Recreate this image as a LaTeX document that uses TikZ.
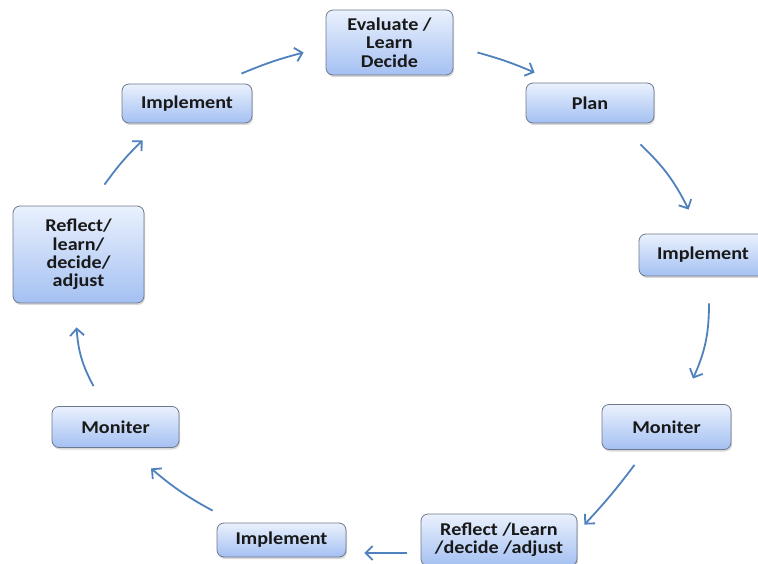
\documentclass[tikz,border=0pt]{standalone}
\usepackage{fontspec}
\setmainfont{Carlito}[FakeStretch=1.12]
\usetikzlibrary{arrows.meta,shadows}
\definecolor{boxtop}{RGB}{234,241,253}
\definecolor{boxbot}{RGB}{164,192,242}
\definecolor{boxborder}{RGB}{110,120,140}
\definecolor{arrblue}{RGB}{79,129,189}
\tikzset{
  box/.style={draw=boxborder, line width=0.8pt, rounded corners=7pt,
    top color=boxtop, bottom color=boxbot, minimum width=128pt,
    align=center, inner sep=0pt, text=black!90,
    font=\fontsize{18}{18.3}\selectfont\bfseries,
    drop shadow={shadow xshift=1pt, shadow yshift=-2pt, opacity=0.3}},
  arr/.style={draw=arrblue, line width=1.8pt,
    -{Straight Barb[length=7pt,width=14pt]}}
}
\begin{document}
\begin{tikzpicture}[x=1pt,y=1pt]
\useasboundingbox (0,0) rectangle (758,563);
\node[box, minimum width=127pt, minimum height=65pt] (ev) at (389.5,520.5) {Evaluate /\\Learn\\Decide};
\node[box, minimum height=40pt] (plan) at (590,460) {Plan};
\node[box, minimum height=42pt] (impr) at (703,308) {Implement};
\node[box, minimum width=129pt, minimum height=45pt] (monr) at (666.5,136) {Moniter};
\node[box, minimum width=156pt, minimum height=52pt] (refb) at (499,23) {Reflect /Learn\\/decide /adjust};
\node[box, minimum width=129pt, minimum height=34pt] (impb) at (281.5,23) {Implement};
\node[box, minimum width=127pt, minimum height=41pt] (monl) at (115.5,136) {Moniter};
\node[box, minimum width=131pt, minimum height=97pt] (refl) at (78.5,308.5) {Reflect/\\learn/\\decide/\\adjust};
\node[box, minimum width=130pt, minimum height=39pt] (impl) at (187,459.5) {Implement};

\draw[arr] ([shift={(-11pt,10pt)}]impl.north east) to[bend left=4] ([shift={(-22pt,-10pt)}]ev.west);
\draw[arr] ([shift={(24pt,-10pt)}]ev.east) to[bend left=4] ([shift={(9pt,10pt)}]plan.north west);
\draw[arr] ([shift={(-14pt,-21pt)}]plan.south east) to[bend left=10] ([shift={(50pt,24pt)}]impr.north west);
\draw[arr] ([shift={(6pt,-27pt)}]impr.south) to[bend left=12] ([shift={(26.5pt,25.5pt)}]monr.north);
\draw[arr] ([shift={(-32pt,-15pt)}]monr.south) to[bend left=3] ([shift={(7pt,-11pt)}]refb.north east);
\draw[arr] ([shift={(-14pt,-13pt)}]refb.west) -- ([shift={(18pt,-13pt)}]impb.east);
\draw[arr] ([shift={(-4pt,12pt)}]impb.north west) to[bend left=6] ([shift={(35.5pt,-20.5pt)}]monl.south);
\draw[arr] ([shift={(-22pt,20pt)}]monl.north) to[bend left=12] ([shift={(-2pt,-24pt)}]refl.south);
\draw[arr] ([shift={(26pt,21pt)}]refl.north) to[bend left=5] ([shift={(21pt,-17pt)}]impl.south west);
\end{tikzpicture}
\end{document}
